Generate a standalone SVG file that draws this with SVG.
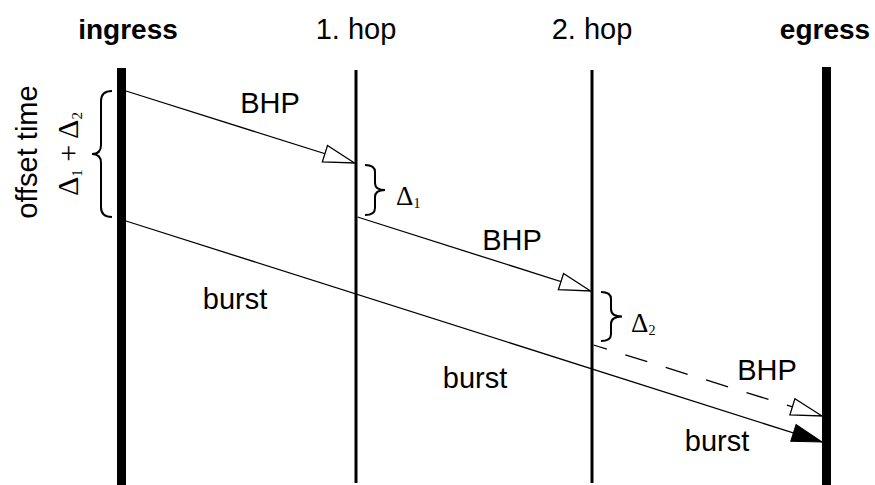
<svg xmlns="http://www.w3.org/2000/svg" width="875" height="485" viewBox="0 0 875 485">
<style>
.lbl{font-family:"Liberation Sans",Arial,sans-serif;font-size:29px;fill:#000}
.hdr{font-family:"Liberation Sans",Arial,sans-serif;font-size:29px;fill:#000;text-anchor:middle}
.b{font-weight:bold;font-size:28px}
.dl{font-family:"Liberation Serif","Times New Roman",serif;fill:#000}
.ln{stroke:#000;stroke-width:1.3;fill:none}
.brace{stroke:#000;stroke-width:2;fill:none}
</style>
<defs>
<marker id="open" markerUnits="userSpaceOnUse" viewBox="-32 -10 34 20" refX="0" refY="0" markerWidth="34" markerHeight="20" orient="auto">
<path d="M0,0 L-31,-8.5 L-31,8.5 Z" fill="#fff" stroke="#000" stroke-width="1.3"/>
</marker>
<marker id="filled" markerUnits="userSpaceOnUse" viewBox="-32 -10 34 20" refX="0" refY="0" markerWidth="34" markerHeight="20" orient="auto">
<path d="M0,0 L-30,-8.8 L-30,8.8 Z" fill="#000" stroke="#000" stroke-width="1"/>
</marker>
</defs>
<rect width="875" height="485" fill="#fff"/>
<g id="ingress">
<line x1="121.5" y1="68" x2="121.5" y2="485" stroke="#000" stroke-width="9"/>
<text class="hdr b" x="128" y="39">ingress</text>
</g>
<g id="hop1">
<line x1="356" y1="70" x2="356" y2="483" stroke="#000" stroke-width="3"/>
<text class="hdr" x="356" y="39">1. hop</text>
</g>
<g id="hop2">
<line x1="592" y1="70" x2="592" y2="483" stroke="#000" stroke-width="3"/>
<text class="hdr" x="592" y="39">2. hop</text>
</g>
<g id="egress">
<line x1="826.5" y1="67" x2="826.5" y2="485" stroke="#000" stroke-width="9"/>
<text class="hdr b" x="825" y="39">egress</text>
</g>
<g id="connectors">
<line class="ln" x1="126" y1="91" x2="354.5" y2="163" marker-end="url(#open)"/>
<line class="ln" x1="357.5" y1="217" x2="590.5" y2="291" marker-end="url(#open)"/>
<line class="ln" x1="593.5" y1="345" x2="822" y2="416" stroke-dasharray="23 19.3" stroke-dashoffset="9" marker-end="url(#open)"/>
<line class="ln" x1="126" y1="221" x2="822" y2="442" marker-end="url(#filled)"/>
</g>
<g id="labels">
<text class="lbl" x="270" y="113" text-anchor="middle">BHP</text>
<text class="lbl" x="512" y="250" text-anchor="middle">BHP</text>
<text class="lbl" x="767" y="380" text-anchor="middle">BHP</text>
<text class="lbl" x="235" y="309" text-anchor="middle">burst</text>
<text class="lbl" x="475" y="388" text-anchor="middle">burst</text>
<text class="lbl" x="717" y="451" text-anchor="middle">burst</text>
</g>
<g id="offset">
<path class="brace" d="M112,91 Q101,91 101,101 L101,145 Q101,154 92,154 Q101,154 101,163 L101,207 Q101,217 112,217"/>
<text class="lbl" transform="translate(37,152) rotate(-90)" text-anchor="middle" font-size="29">offset time</text>
<text class="dl" transform="translate(78,154) rotate(-90)" text-anchor="middle" font-size="30">Δ<tspan font-size="15" dy="4">1</tspan><tspan dy="-4"> + </tspan>Δ<tspan font-size="15" dy="4">2</tspan></text>
</g>
<g id="delta1">
<path class="brace" d="M365,165 Q375,165 375,172 L375,183 Q375,190 385,190 Q375,190 375,197 L375,208 Q375,215 365,215"/>
<text class="dl" x="396" y="205" font-size="27">Δ<tspan font-size="14" dy="3">1</tspan></text>
</g>
<g id="delta2">
<path class="brace" d="M601,292 Q611,292 611,299 L611,309 Q611,316.5 622,316.5 Q611,316.5 611,324 L611,334 Q611,341 601,341"/>
<text class="dl" x="631" y="332" font-size="27">Δ<tspan font-size="14" dy="3">2</tspan></text>
</g>
</svg>
